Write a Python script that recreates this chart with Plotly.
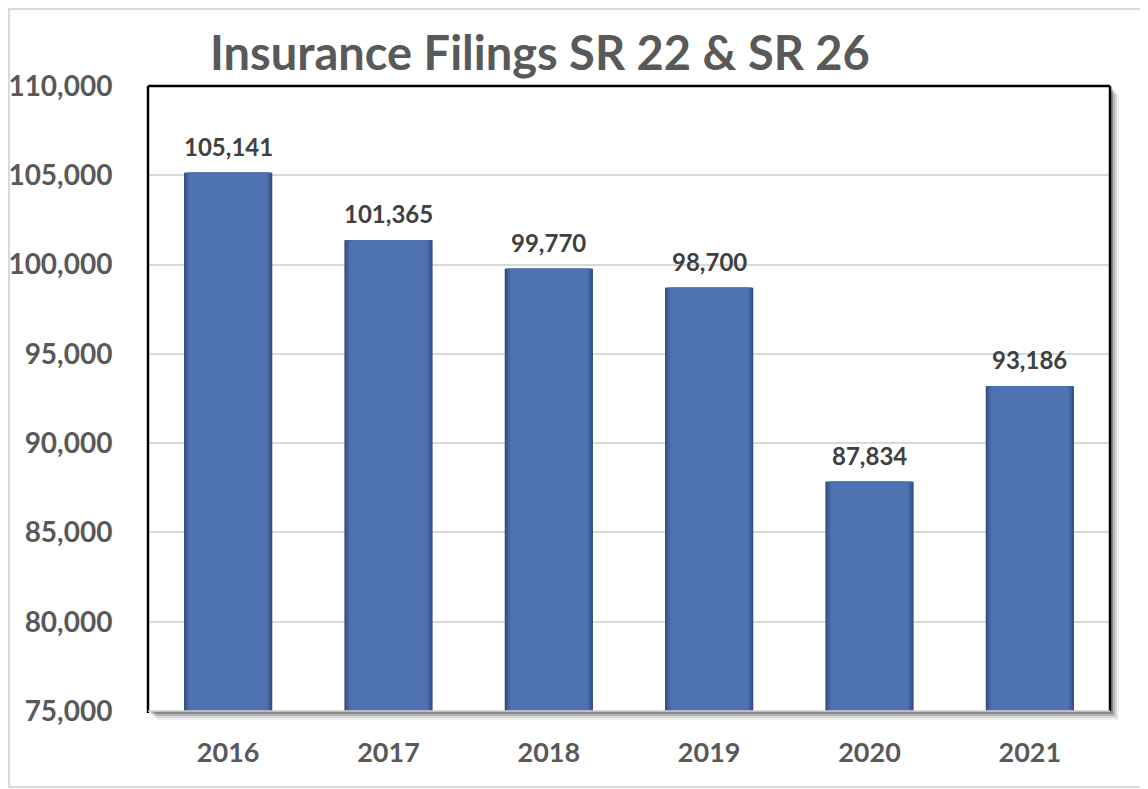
import plotly.graph_objects as go

years = ["2016", "2017", "2018", "2019", "2020", "2021"]
filings = [105141, 101365, 99770, 98700, 87834, 93186]
title_text = "Insurance Filings SR 22 & SR 26"
y_ticks = [75000, 80000, 85000, 90000, 95000, 100000, 105000, 110000]

OFF = 8  # page body margin
W, H = 1148 - OFF, 789 - OFF
# plot area in reference pixel coordinates
RL, RR, RT, RB = 148, 1110, 86, 711
L, R, T, B = RL - OFF, RR - OFF, RT - OFF, RB - OFF
pw, ph = R - L, B - T

def px(x):
    return (x - OFF - L) / pw

def py(y):
    return (B - (y - OFF)) / ph

GRAY = "#595959"
FONT = "Lato"

fig = go.Figure()
# layered bars to mimic inner-shadow gradient
layers = [(0.55, "#2F4878"), (0.54, "#365285"), (0.527, "#3E5D94"),
          (0.51, "#4667A3"), (0.49, "#4C6FAE"), (0.47, "#4F72B2")]
for wdt, col in layers:
    fig.add_trace(go.Bar(
        x=list(range(len(years))), y=filings,
        marker=dict(color=col, line=dict(width=0)),
        width=wdt, hoverinfo="skip",
    ))

shapes = []
shapes.append(dict(type="rect", xref="paper", yref="paper",
                   x0=px(9), x1=px(1143), y0=py(787), y1=py(9),
                   line=dict(color="#D9D9D9", width=2), fillcolor="rgba(0,0,0,0)", layer="below"))
for off, op in [(9, 0.06), (7, 0.10), (5, 0.16), (3, 0.25)]:
    shapes.append(dict(type="rect", xref="paper", yref="paper",
                       x0=px(RL + off), x1=px(RR + off), y0=py(RB + off), y1=py(RT + off),
                       line=dict(width=0), fillcolor=f"rgba(0,0,0,{op})", layer="below"))
shapes.append(dict(type="rect", xref="paper", yref="paper",
                   x0=0, x1=1, y0=0, y1=1,
                   line=dict(width=0), fillcolor="white", layer="below"))
shapes.append(dict(type="line", xref="paper", yref="paper", x0=0, x1=0, y0=py(RB + 2), y1=1,
                   line=dict(color="black", width=2.5), layer="above"))
shapes.append(dict(type="line", xref="paper", yref="paper", x0=0, x1=1, y0=1, y1=1,
                   line=dict(color="black", width=2.5), layer="above"))
shapes.append(dict(type="line", xref="paper", yref="paper", x0=1, x1=1, y0=0, y1=1,
                   line=dict(color="black", width=2.5), layer="above"))
shapes.append(dict(type="line", xref="paper", yref="paper", x0=0, x1=1, y0=0, y1=0,
                   line=dict(color="#D0D0D0", width=1.5), layer="above"))

annotations = []
for i, v in enumerate(filings):
    annotations.append(dict(x=i, y=v, xref="x", yref="y", text=f"{v:,}",
                            showarrow=False, yanchor="bottom", yshift=10,
                            font=dict(family=FONT, size=24, color="#404040", weight="bold")))
annotations.append(dict(x=px(540), y=py(52), xref="paper", yref="paper", text=title_text,
                        showarrow=False, xanchor="center", yanchor="middle",
                        font=dict(family=FONT, size=47, color=GRAY, weight="bold")))

fig.update_layout(
    width=W, height=H,
    margin=dict(l=L, r=W - R, t=T, b=H - B, pad=0, autoexpand=False),
    paper_bgcolor="white",
    plot_bgcolor="rgba(0,0,0,0)",
    showlegend=False,
    barmode="overlay",
    shapes=shapes,
    annotations=annotations,
    xaxis=dict(range=[-0.5, 5.5], tickvals=list(range(len(years))), ticktext=years,
               showgrid=False, zeroline=False, showline=False, automargin=False,
               ticks="outside", ticklen=18, tickcolor="rgba(0,0,0,0)",
               tickfont=dict(family=FONT, size=27, color=GRAY, weight="bold")),
    yaxis=dict(range=[75000, 110000], tickvals=y_ticks,
               ticktext=[f"{t:,}" for t in y_ticks], automargin=False,
               showgrid=True, gridcolor="#D9D9D9", gridwidth=1.5, zeroline=False,
               showline=False, ticks="outside", ticklen=29, tickcolor="rgba(0,0,0,0)",
               tickfont=dict(family=FONT, size=28, color=GRAY, weight="bold")),
)

fig.write_html("out.html")
